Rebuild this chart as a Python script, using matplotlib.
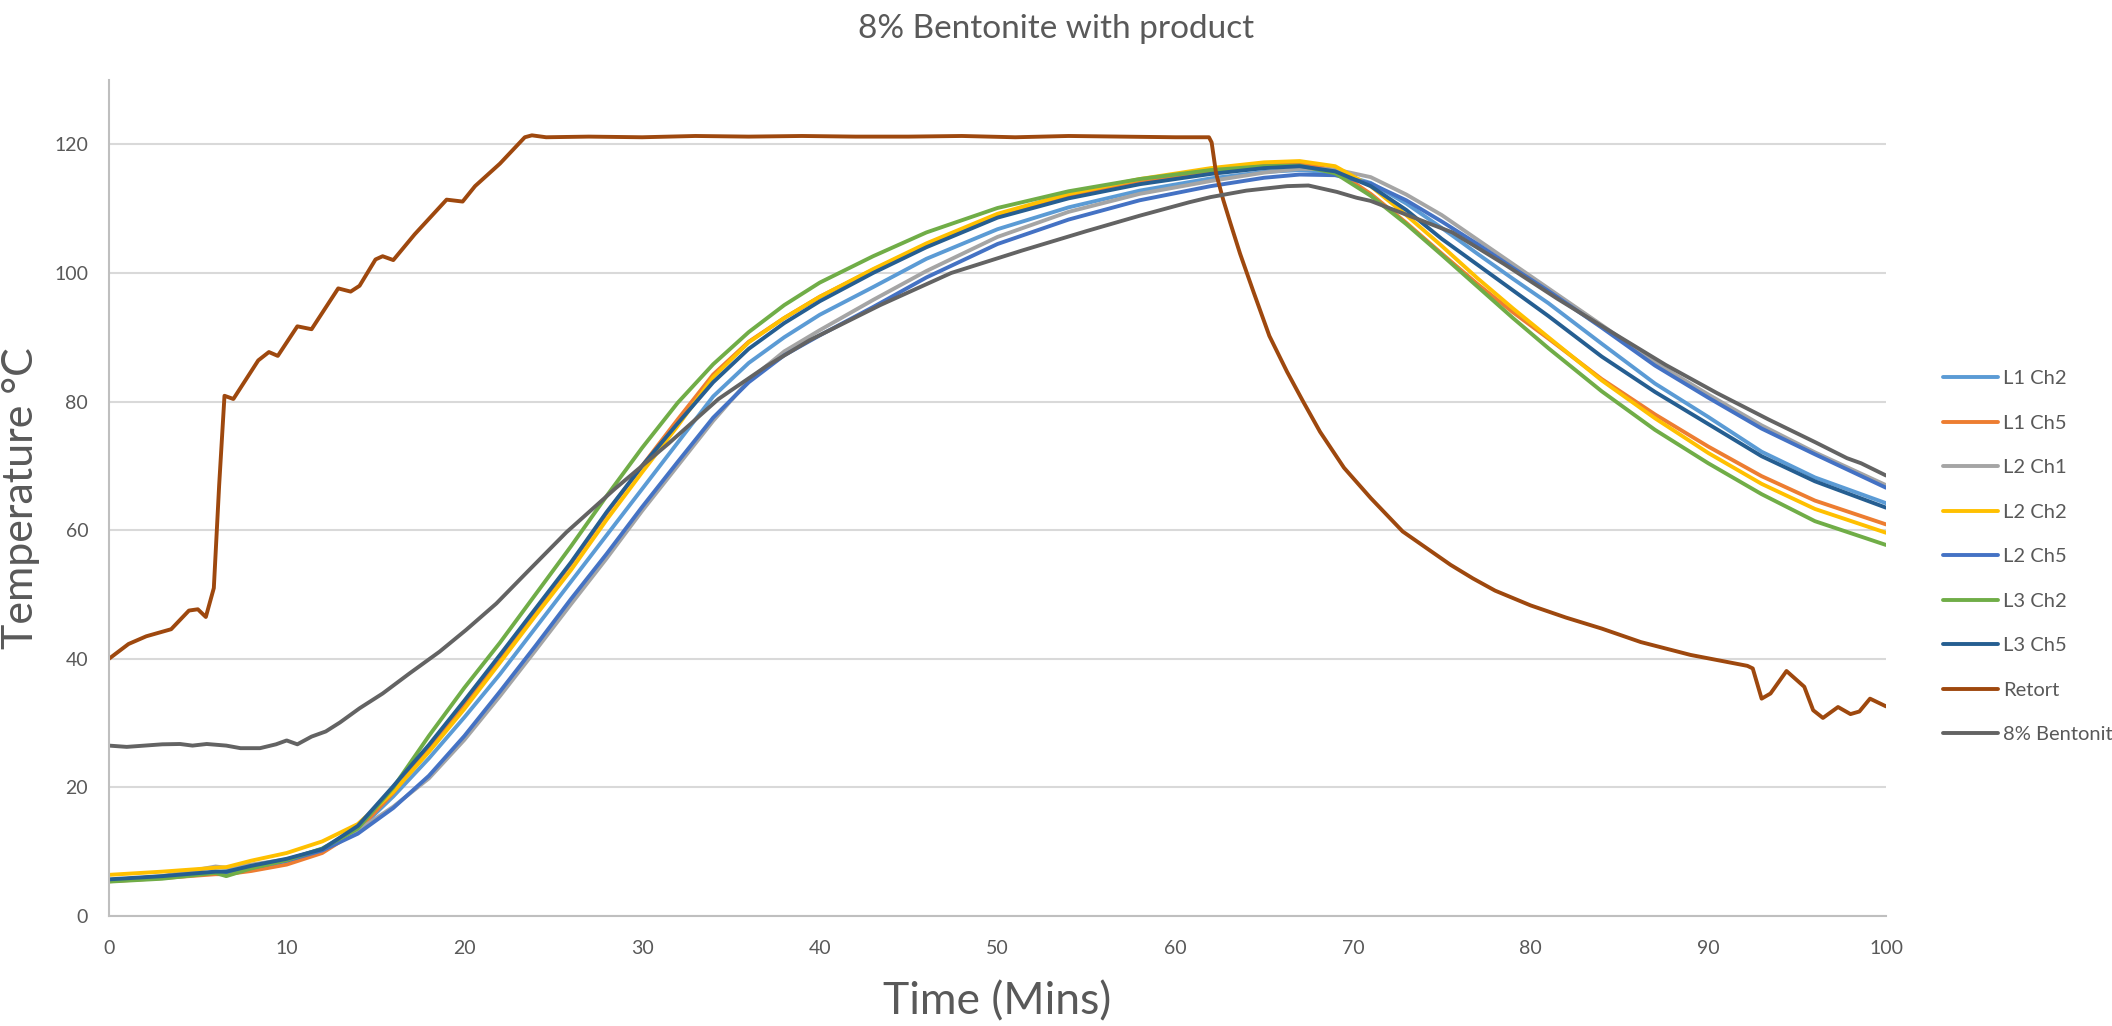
import matplotlib
matplotlib.use("Agg")
import matplotlib.pyplot as plt

plt.rcParams["font.family"] = ["Lato", "DejaVu Sans"]

# -------------------------------------------------------------------
# Data (time in minutes, temperature in degC)
# -------------------------------------------------------------------
TIME = [0, 3, 6, 6.6, 8, 10, 12, 14, 16, 18, 20, 22, 24, 26, 28, 30, 32, 34,
        36, 38, 40, 43, 46, 50, 54, 58, 62, 65, 67, 69, 71, 73, 75, 77, 79,
        81, 84, 87, 90, 93, 96, 100]

l1_ch2 = [5.6, 6.1, 6.8, 6.9, 7.6, 8.6, 10.2, 13.3, 18.6, 24.5, 30.9, 37.6,
          44.8, 52.0, 59.2, 66.4, 73.6, 80.8, 86.0, 90.0, 93.5, 97.8, 102.2,
          106.8, 110.2, 112.8, 114.7, 115.7, 116.0, 115.6, 114.0, 110.8,
          107.0, 103.0, 99.1, 95.3, 89.0, 82.8, 77.6, 72.2, 68.2, 64.2]
l1_ch5 = [5.4, 5.9, 6.5, 6.5, 7.0, 8.0, 9.8, 13.3, 19.2, 26.0, 33.0, 40.2,
          47.5, 54.8, 62.6, 70.0, 77.2, 84.2, 89.3, 93.0, 96.3, 100.5, 104.4,
          109.0, 112.0, 114.2, 115.8, 116.7, 117.0, 116.0, 112.3, 107.8,
          103.0, 98.3, 93.9, 89.8, 83.5, 78.0, 73.0, 68.4, 64.6, 60.9]
l2_ch1 = [5.5, 6.2, 7.7, 7.5, 8.0, 8.8, 10.4, 13.3, 17.0, 21.4, 27.4, 34.2,
          41.3, 48.5, 55.6, 63.0, 70.0, 77.0, 83.3, 87.8, 91.1, 95.8, 100.3,
          105.6, 109.5, 112.3, 114.3, 115.6, 116.2, 116.1, 114.9, 112.2,
          109.0, 105.2, 101.4, 97.6, 91.9, 86.1, 81.1, 76.3, 72.1, 67.0]
l2_ch2 = [6.4, 6.9, 7.5, 7.6, 8.6, 9.8, 11.6, 14.3, 19.3, 25.5, 32.2, 39.4,
          46.7, 53.8, 61.6, 69.0, 76.2, 83.8, 89.2, 93.0, 96.3, 100.6, 104.6,
          109.2, 112.3, 114.6, 116.3, 117.2, 117.4, 116.6, 113.5, 109.0,
          104.2, 99.2, 94.5, 90.0, 83.3, 77.4, 72.0, 67.2, 63.3, 59.6]
l2_ch5 = [5.6, 6.1, 6.8, 6.8, 7.5, 8.6, 10.2, 12.8, 16.8, 21.8, 28.0, 34.9,
          42.0, 49.3, 56.3, 63.6, 70.6, 77.5, 83.0, 87.2, 90.3, 94.7, 99.3,
          104.5, 108.3, 111.3, 113.5, 114.8, 115.3, 115.2, 113.9, 111.3,
          108.0, 104.5, 100.8, 97.2, 91.5, 85.6, 80.6, 75.8, 71.8, 66.6]
l3_ch2 = [5.35, 5.8, 6.7, 6.2, 7.4, 8.7, 10.5, 13.6, 20.0, 28.0, 35.5, 42.5,
          50.0, 57.5, 65.3, 72.8, 79.8, 85.8, 90.8, 95.0, 98.5, 102.6, 106.3,
          110.1, 112.7, 114.6, 116.0, 116.6, 116.7, 115.5, 112.0, 107.6,
          102.8, 97.9, 93.0, 88.3, 81.6, 75.6, 70.4, 65.6, 61.4, 57.7]
l3_ch5 = [5.7, 6.2, 6.9, 6.9, 7.8, 8.9, 10.4, 14.0, 20.2, 26.6, 33.5, 40.6,
          47.8, 55.0, 62.8, 70.0, 76.6, 83.0, 88.2, 92.2, 95.6, 100.0, 104.0,
          108.6, 111.6, 113.8, 115.4, 116.3, 116.6, 115.8, 113.5, 109.8,
          105.3, 101.3, 97.3, 93.3, 87.0, 81.5, 76.5, 71.5, 67.6, 63.5]

RETORT_TIME = [0, 1.1, 2.1, 3.5, 4.5, 5.0, 5.45, 5.9, 6.2, 6.5, 7.0, 8.4, 9.0,
               9.5, 10.6, 11.4, 12.9, 13.6, 14.1, 15.0, 15.4, 16.0, 17.2,
               18.2, 19.0, 19.9, 20.6, 22.0, 23.4, 23.8, 24.6, 27, 30, 33, 36,
               39, 42, 45, 48, 51, 54, 57, 60, 61.9, 62.05, 62.3, 62.7, 63.1,
               63.65, 64.4, 65.3, 66.3, 67.2, 68.15, 69.5, 71, 72.8, 75.5,
               76.75, 78, 80, 82, 84, 86.2, 89, 92.2, 92.5, 93.0, 93.5, 94.4,
               95.4, 95.9, 96.45, 97.3, 98.0, 98.5, 99.1, 100]
retort = [40.0, 42.3, 43.5, 44.6, 47.5, 47.7, 46.5, 51.0, 67.0, 80.9, 80.4,
          86.4, 87.7, 87.1, 91.7, 91.25, 97.6, 97.1, 98.0, 102.1, 102.6,
          102.0, 106.0, 109.0, 111.4, 111.1, 113.5, 117.0, 121.1, 121.4,
          121.1, 121.2, 121.1, 121.3, 121.2, 121.3, 121.2, 121.2, 121.3,
          121.1, 121.3, 121.2, 121.1, 121.1, 120.3, 115.5, 111.4, 107.8,
          103.0, 97.1, 90.2, 84.6, 80.0, 75.3, 69.7, 65.0, 59.8, 54.6, 52.5,
          50.6, 48.3, 46.4, 44.7, 42.6, 40.6, 38.9, 38.5, 33.8, 34.6, 38.1,
          35.65, 32.0, 30.8, 32.5, 31.4, 31.8, 33.8, 32.6]

BENT_TIME = [0, 1, 2, 3, 4, 4.7, 5.5, 6.6, 7.4, 8.5, 9.4, 10, 10.6, 11.4,
             12.2, 13, 14.1, 15.4, 16.9, 18.6, 20.1, 21.8, 23.5, 25.75, 28.5,
             31.5, 34.3, 37, 39.4, 43.4, 47.4, 51.4, 55, 58, 60.8, 62, 64,
             66.3, 67.5, 69.1, 70.2, 71, 72.5, 75.6, 78.5, 81.5, 84.5, 87.6,
             90.5, 93.4, 96, 97.8, 98.6, 100]
bentonite = [26.5, 26.3, 26.5, 26.7, 26.75, 26.5, 26.75, 26.5, 26.1, 26.1,
             26.7, 27.3, 26.7, 27.9, 28.7, 30.1, 32.3, 34.6, 37.7, 41.1, 44.5,
             48.6, 53.4, 59.7, 66.5, 73.5, 80.4, 85.5, 89.5, 95.0, 100.0,
             103.5, 106.5, 108.9, 111.0, 111.8, 112.8, 113.5, 113.6, 112.6,
             111.7, 111.2, 109.6, 106.3, 101.4, 96.0, 90.9, 85.7, 81.3, 77.2,
             73.7, 71.2, 70.4, 68.5]

SERIES = [
    ("L1 Ch2", TIME, l1_ch2, "#5B9BD5"),
    ("L1 Ch5", TIME, l1_ch5, "#ED7D31"),
    ("L2 Ch1", TIME, l2_ch1, "#A5A5A5"),
    ("L2 Ch2", TIME, l2_ch2, "#FFC000"),
    ("L2 Ch5", TIME, l2_ch5, "#4472C4"),
    ("L3 Ch2", TIME, l3_ch2, "#70AD47"),
    ("L3 Ch5", TIME, l3_ch5, "#255E91"),
    ("Retort", RETORT_TIME, retort, "#9E480E"),
    ("8% Bentonite", BENT_TIME, bentonite, "#636363"),
]

TEXT = "#595959"

# -------------------------------------------------------------------
# Plot
# -------------------------------------------------------------------
fig = plt.figure(figsize=(21.12, 10.26), dpi=100)
ax = fig.add_axes([0.0516, 0.1072, 0.8414, 0.8148])

for name, t, v, color in SERIES:
    ax.plot(t, v, color=color, linewidth=2.8, label=name,
            solid_capstyle="round", solid_joinstyle="round")

ax.set_xlim(0, 100)
ax.set_ylim(0, 130)
ax.set_xticks(range(0, 101, 10))
ax.set_yticks(range(0, 121, 20))
ax.grid(axis="y", color="#D9D9D9", linewidth=1.5)
ax.set_axisbelow(True)

for side in ["top", "right"]:
    ax.spines[side].set_visible(False)
for side in ["left", "bottom"]:
    ax.spines[side].set_color("#BFBFBF")
    ax.spines[side].set_linewidth(1.5)

ax.tick_params(axis="both", length=0, labelsize=14, labelcolor=TEXT)
ax.tick_params(axis="x", pad=17)
ax.tick_params(axis="y", pad=15)

ax.set_xlabel("Time (Mins)", fontsize=32, color=TEXT, labelpad=18)
ax.set_ylabel("Temperature °C", fontsize=31, color=TEXT, labelpad=10)

fig.text(0.5, 0.972, "8% Bentonite with product", ha="center", va="center",
         fontsize=24, color=TEXT)

# legend sits in the right margin; the last label runs off the figure edge
leg = ax.legend(loc="upper left", bbox_to_anchor=(0.92, 0.639),
                bbox_transform=fig.transFigure, frameon=False, fontsize=14.5,
                borderpad=0, borderaxespad=0, handlelength=2.74,
                handletextpad=0.25, labelspacing=1.36)
for txt in leg.get_texts():
    txt.set_color(TEXT)

fig.savefig("out.png", dpi=100)
